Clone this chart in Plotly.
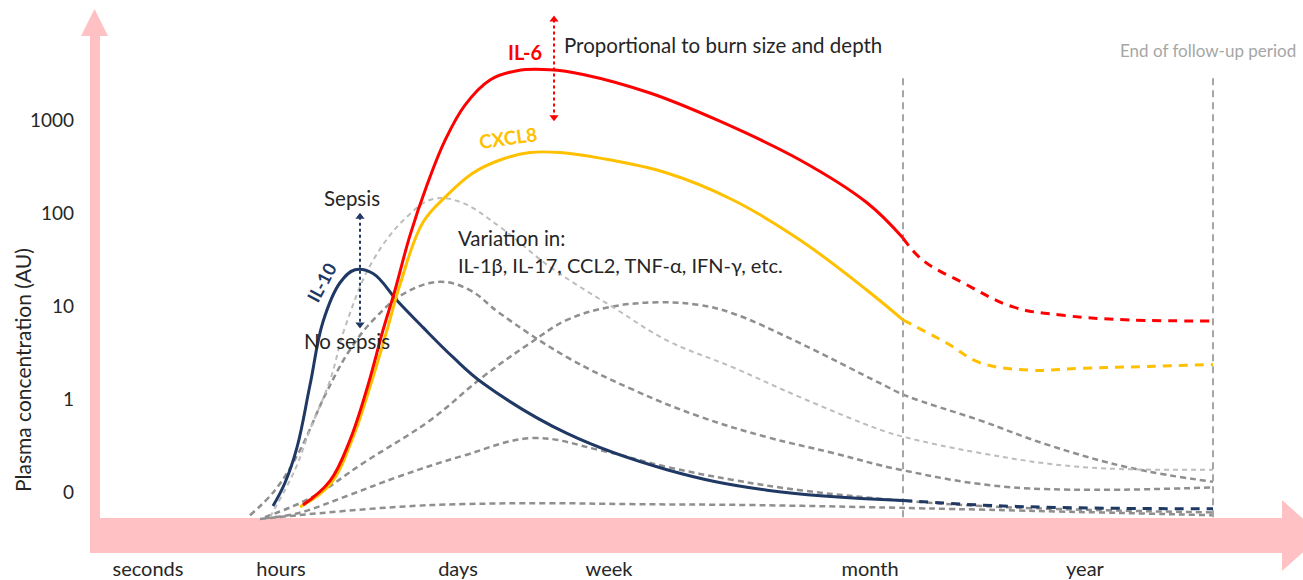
import plotly.graph_objects as go

# ---------------- data (x: time position, y: log-level; 0 -> "0", 1 -> "1", 2 -> "10" ...)
tick_vals_x = [148, 281, 458, 609, 870, 1085]
tick_text_x = ["seconds", "hours", "days", "week", "month", "year"]
tick_vals_y = [0, 1, 2, 3, 4]
tick_text_y = ["0", "1", "10", "100", "1000"]

il6_x = [303, 330, 350, 368, 383, 395, 410, 427, 445, 465, 490, 517, 550, 583, 650, 717, 800, 867, 903]
il6_y = [-0.14, 0.12, 0.56, 1.15, 1.74, 2.17, 2.76, 3.30, 3.78, 4.16, 4.43, 4.53, 4.54, 4.49, 4.29, 4.00, 3.57, 3.11, 2.73]
il6_tail_x = [903, 923, 963, 1013, 1063, 1130, 1213]
il6_tail_y = [2.73, 2.49, 2.25, 1.99, 1.90, 1.85, 1.84]

cxcl8_x = [300, 330, 352, 372, 387, 400, 423, 447, 473, 500, 530, 560, 600, 667, 733, 800, 867, 903]
cxcl8_y = [-0.16, 0.08, 0.56, 1.20, 1.74, 2.23, 2.90, 3.19, 3.43, 3.57, 3.65, 3.65, 3.59, 3.43, 3.14, 2.71, 2.17, 1.85]
cxcl8_tail_x = [903, 947, 980, 1030, 1080, 1147, 1213]
cxcl8_tail_y = [1.85, 1.60, 1.39, 1.31, 1.33, 1.35, 1.37]

il10_x = [273, 285, 297, 310, 323, 340, 355, 373, 397, 423, 453, 483, 567, 667, 767, 903]
il10_y = [-0.15, 0.10, 0.48, 1.15, 1.83, 2.25, 2.39, 2.35, 2.06, 1.77, 1.45, 1.17, 0.63, 0.24, 0.02, -0.09]
il10_tail_x = [903, 980, 1080, 1213]
il10_tail_y = [-0.09, -0.14, -0.17, -0.18]

grey_light_x = [270, 295, 310, 330, 345, 373, 407, 433, 460, 500, 550, 617, 667, 733, 800, 880, 905, 980, 1080, 1213]
grey_light_y = [-0.27, 0.24, 0.67, 1.20, 1.77, 2.49, 2.96, 3.15, 3.12, 2.85, 2.42, 1.96, 1.63, 1.34, 1.02, 0.67, 0.59, 0.42, 0.27, 0.24]

grey_a_x = [250, 275, 300, 325, 350, 375, 405, 440, 470, 500, 567, 633, 700, 767, 833, 900, 1013, 1213]
grey_a_y = [-0.25, 0.02, 0.45, 1.04, 1.53, 1.87, 2.14, 2.26, 2.17, 1.92, 1.45, 1.10, 0.81, 0.59, 0.42, 0.24, 0.05, 0.05]

grey_b_x = [265, 313, 363, 430, 483, 530, 567, 610, 660, 700, 733, 800, 880, 905, 980, 1047, 1130, 1213]
grey_b_y = [-0.27, -0.05, 0.31, 0.77, 1.24, 1.60, 1.85, 1.99, 2.04, 2.01, 1.92, 1.60, 1.17, 1.04, 0.77, 0.51, 0.26, 0.11]

grey_c_x = [265, 297, 350, 397, 463, 533, 600, 667, 733, 800, 900, 1000, 1213]
grey_c_y = [-0.28, -0.23, -0.03, 0.16, 0.39, 0.58, 0.45, 0.27, 0.13, 0.02, -0.09, -0.16, -0.22]

grey_d_x = [260, 297, 397, 463, 550, 630, 750, 900, 1213]
grey_d_y = [-0.29, -0.25, -0.16, -0.13, -0.12, -0.13, -0.14, -0.17, -0.25]

period_x = [903, 1213]
period_y = [4.45, -0.28]

il6_range_x = [554, 554]
il6_range_y = [5.08, 4.03]
sepsis_x = [360, 360]
sepsis_y = [2.96, 1.80]

# ---------------- style
RED = "#ff0000"
YEL = "#ffc000"
NAVY = "#1f3864"
GREY = "#8f8f8f"
LGREY = "#bdbdbd"
PINK = "#ffc1c3"
TXT = "#262626"
FONT = "Lato"

W, H = 1303, 580
ML, MB = 100, 25


def px(x):
    return (x - ML) / (W - ML)


def py(y):
    return (H - MB - y) / (H - MB)


fig = go.Figure()


def line(x, y, color, width, dash=None):
    fig.add_trace(go.Scatter(x=x, y=y, mode="lines",
                             line=dict(color=color, width=width, dash=dash, shape="spline", smoothing=1.1),
                             hoverinfo="skip", showlegend=False))


# grey dashed
line(grey_d_x, grey_d_y, GREY, 2.5, "6px,4px")
line(grey_c_x, grey_c_y, GREY, 2.5, "6px,4px")
line(grey_b_x, grey_b_y, GREY, 2.5, "6px,4px")
line(grey_a_x, grey_a_y, GREY, 2.5, "6px,4px")
line(grey_light_x, grey_light_y, LGREY, 2, "5px,4px")

# vertical period lines
for xv in period_x:
    fig.add_trace(go.Scatter(x=[xv, xv], y=period_y, mode="lines",
                             line=dict(color="#a6a6a6", width=2, dash="7px,5px"),
                             hoverinfo="skip", showlegend=False))

# coloured curves
line(il10_x, il10_y, NAVY, 3)
line(il10_tail_x, il10_tail_y, NAVY, 3, "9px,7px")
line(cxcl8_x, cxcl8_y, YEL, 3)
line(cxcl8_tail_x, cxcl8_tail_y, YEL, 3, "9px,7px")
line(il6_x, il6_y, RED, 3)
line(il6_tail_x, il6_tail_y, RED, 3, "9px,7px")

# dotted double arrows
for xs, ys, c in [(il6_range_x, il6_range_y, RED), (sepsis_x, sepsis_y, NAVY)]:
    fig.add_trace(go.Scatter(x=xs, y=ys, mode="lines+markers",
                             line=dict(color=c, width=2, dash="dot"),
                             marker=dict(symbol=["triangle-up", "triangle-down"], size=8, color=c),
                             hoverinfo="skip", showlegend=False))

# pink axis arrows
shapes = [
    dict(type="rect", xref="paper", yref="paper", x0=px(90), x1=px(100), y0=py(553), y1=py(36),
         fillcolor=PINK, line=dict(width=0), layer="below"),
    dict(type="path", xref="paper", yref="paper",
         path=f"M {px(81)},{py(36)} L {px(94.5)},{py(9)} L {px(108)},{py(36)} Z",
         fillcolor=PINK, line=dict(width=0), layer="below"),
    dict(type="rect", xref="paper", yref="paper", x0=px(90), x1=px(1283), y0=py(553), y1=py(518),
         fillcolor=PINK, line=dict(width=0), layer="below"),
    dict(type="path", xref="paper", yref="paper",
         path=f"M {px(1282)},{py(500)} L {px(1322)},{py(535.5)} L {px(1282)},{py(571)} Z",
         fillcolor=PINK, line=dict(width=0), layer="below"),
]

ann = [
    dict(x=525, y=4.73, text="<b>IL-6</b>", font=dict(color=RED, size=20)),
    dict(x=562, y=4.81, text="Proportional to burn size and depth", xanchor="left", font=dict(size=20.5, color=TXT)),
    dict(x=508, y=3.81, text="<b>CXCL8</b>", font=dict(color=YEL, size=19), textangle=-8),
    dict(x=352, y=3.16, text="Sepsis", font=dict(size=20.5, color=TXT)),
    dict(x=347, y=1.62, text="No sepsis", font=dict(size=20.5, color=TXT)),
    dict(x=321, y=2.25, text="<b>IL-10</b>", font=dict(color=NAVY, size=18), textangle=-62),
    dict(x=456, y=2.73, text="Variation in:", xanchor="left", font=dict(size=20.5, color=TXT)),
    dict(x=456, y=2.44, text="IL-1β, IL-17, CCL2, TNF-α, IFN-γ, etc.", xanchor="left", font=dict(size=20, color=TXT)),
    dict(x=1118, y=4.75, text="End of follow-up period", xanchor="left", font=dict(size=17, color="#a6a6a6")),
]
for a in ann:
    a.update(xref="x", yref="y", showarrow=False)
    a["font"].setdefault("family", FONT)

ann.append(dict(xref="paper", yref="paper", x=px(22), y=py(370), xanchor="center", yanchor="middle",
                text="Plasma concentration (AU)", textangle=-90, showarrow=False,
                font=dict(family=FONT, size=21, color=TXT)))

fig.update_layout(
    width=W, height=H,
    margin=dict(l=ML, r=0, t=0, b=MB, pad=0),
    paper_bgcolor="white", plot_bgcolor="white",
    shapes=shapes, annotations=ann,
    font=dict(family=FONT, color=TXT),
    xaxis=dict(range=[100, 1303], tickvals=tick_vals_x, ticktext=tick_text_x,
               showgrid=False, zeroline=False, showline=False, ticks="",
               tickfont=dict(size=20, color=TXT)),
    yaxis=dict(range=[-0.677, 5.29], tickvals=tick_vals_y, ticktext=tick_text_y,
               showgrid=False, zeroline=False, showline=False, ticks="",
               ticklabelstandoff=25, tickfont=dict(size=19, color=TXT)),
)

fig.write_html("out.html", config={"displayModeBar": False},
               post_script="document.body.style.margin='0px';document.body.style.overflow='hidden';")
